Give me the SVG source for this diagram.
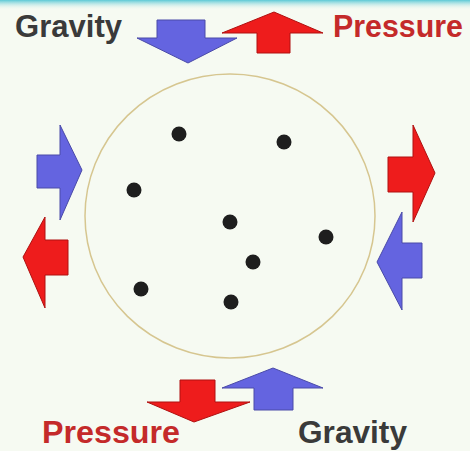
<svg xmlns="http://www.w3.org/2000/svg" width="470" height="451" viewBox="0 0 470 451">
  <defs>
    <linearGradient id="topband" x1="0" y1="0" x2="0" y2="1">
      <stop offset="0" stop-color="#5cc9d6"/>
      <stop offset="1" stop-color="#f6faf2" stop-opacity="0"/>
    </linearGradient>
    <style>
      .lbl { font-family: "Liberation Sans", Arial, sans-serif; font-weight: bold; font-size: 31px; }
      .grav { fill: #3a3a3a; }
      .pres { fill: #c42a2a; }
      .blue { fill: #6464e0; stroke: #4a4aa8; stroke-width: 1; }
      .red { fill: #ee1c1c; stroke: #b01010; stroke-width: 1; }
      .dot { fill: #1e1e1e; }
    </style>
  </defs>
  <rect x="0" y="0" width="470" height="451" fill="#f6faf2"/>
  <rect x="0" y="0" width="470" height="10" fill="url(#topband)"/>

  <g id="container">
    <ellipse cx="230" cy="216" rx="145" ry="142" fill="none" stroke="#d6c690" stroke-width="1.5"/>
  </g>

  <g id="particles">
    <circle class="dot" cx="179" cy="134" r="7.5"/>
    <circle class="dot" cx="284" cy="142" r="7.5"/>
    <circle class="dot" cx="134" cy="190" r="7.5"/>
    <circle class="dot" cx="230" cy="222" r="7.5"/>
    <circle class="dot" cx="326" cy="237" r="7.5"/>
    <circle class="dot" cx="253" cy="262" r="7.5"/>
    <circle class="dot" cx="141" cy="289" r="7.5"/>
    <circle class="dot" cx="231" cy="302" r="7.5"/>
  </g>

  <g id="connectors">
    <!-- top gravity (down, blue) -->
    <polygon class="blue" points="157,20 205,20 205,38 237,38 188,63 137,38 157,38"/>
    <!-- top pressure (up, red) -->
    <polygon class="red" points="257,53 290,53 290,33 323,33 274,12 222,33 257,33"/>
    <!-- left gravity (right, blue) -->
    <polygon class="blue" points="37,155 60,155 60,125 82,170 60,220 60,188 37,188"/>
    <!-- left pressure (left, red) -->
    <polygon class="red" points="68,240 45,240 45,217 23,257 45,308 45,275 68,275"/>
    <!-- right pressure (right, red) -->
    <polygon class="red" points="388,157 413,157 413,125 435,173 413,222 413,192 388,192"/>
    <!-- right gravity (left, blue) -->
    <polygon class="blue" points="422,243 402,243 402,212 377,262 402,310 402,278 422,278"/>
    <!-- bottom pressure (down, red) -->
    <polygon class="red" points="180,380 215,380 215,402 250,402 194,422 147,402 180,402"/>
    <!-- bottom gravity (up, blue) -->
    <polygon class="blue" points="254,410 293,410 293,388 323,388 273,368 222,388 254,388"/>
  </g>

  <g id="label-gravity-top">
    <text class="lbl grav" x="15" y="37" textLength="107" lengthAdjust="spacingAndGlyphs">Gravity</text>
  </g>
  <g id="label-pressure-top">
    <text class="lbl pres" x="333" y="37" textLength="130" lengthAdjust="spacingAndGlyphs">Pressure</text>
  </g>
  <g id="label-pressure-bottom">
    <text class="lbl pres" x="42" y="443" textLength="138" lengthAdjust="spacingAndGlyphs">Pressure</text>
  </g>
  <g id="label-gravity-bottom">
    <text class="lbl grav" x="298" y="443" textLength="109" lengthAdjust="spacingAndGlyphs">Gravity</text>
  </g>
</svg>
